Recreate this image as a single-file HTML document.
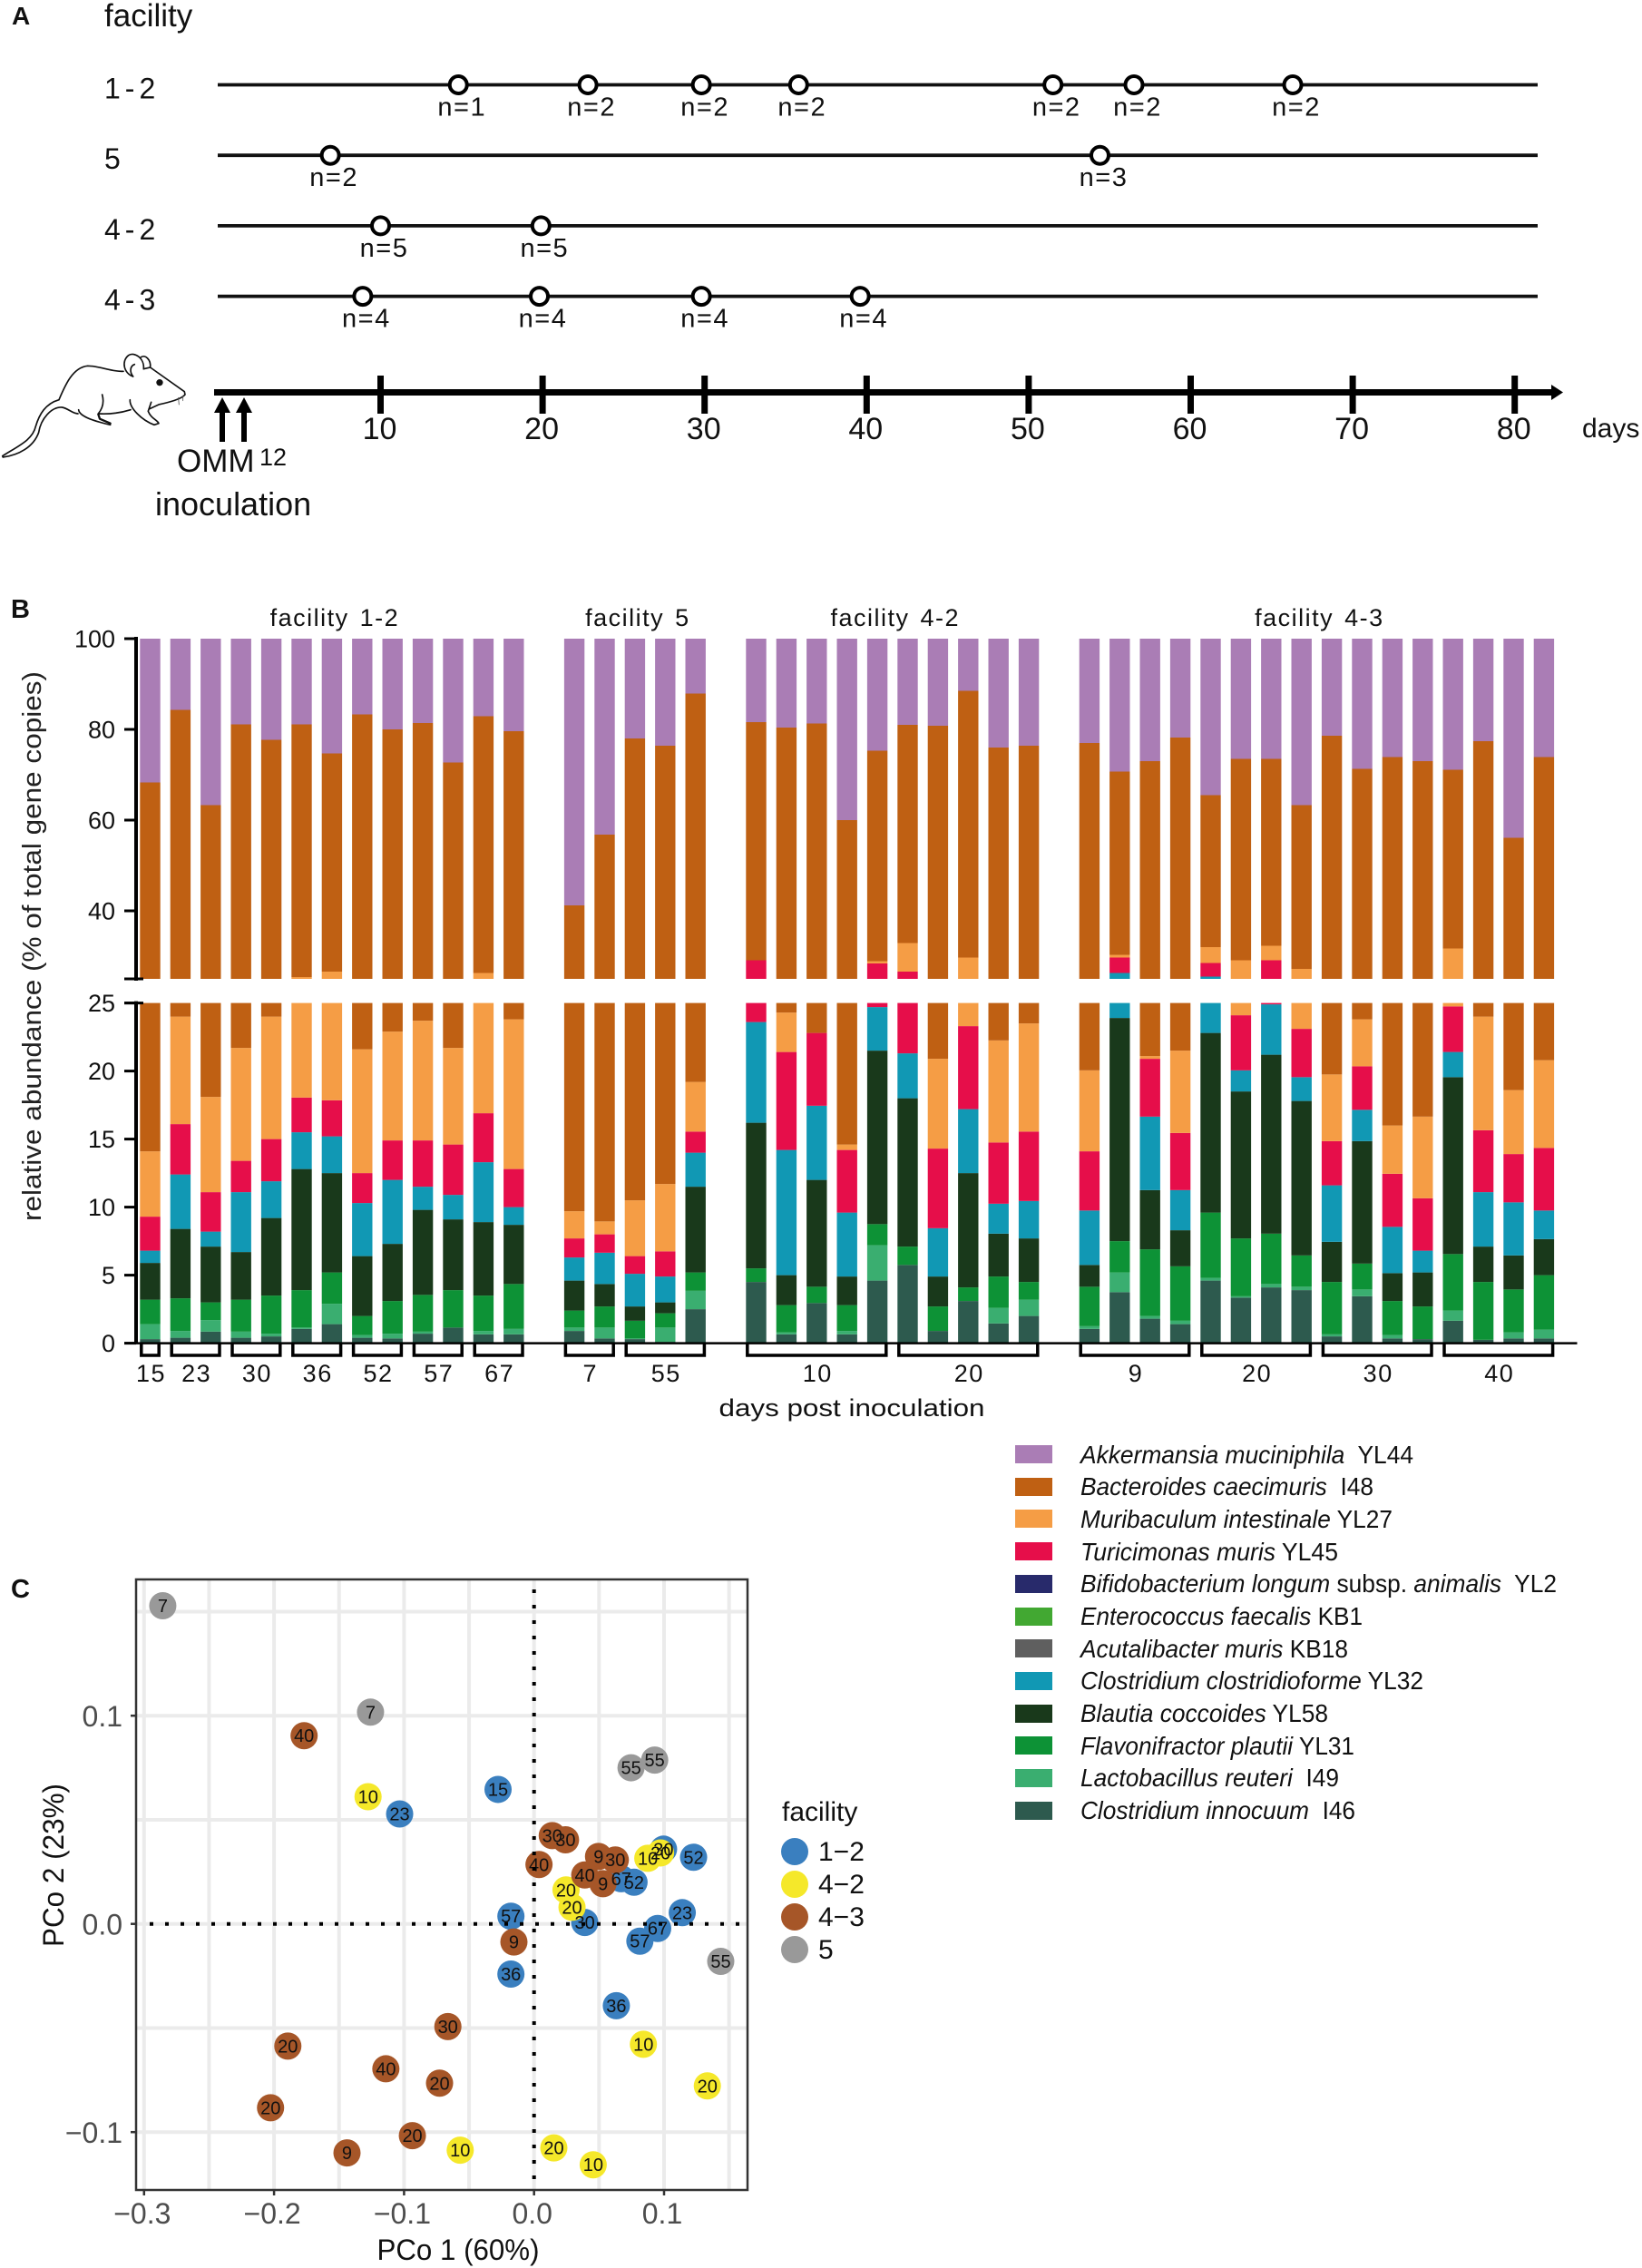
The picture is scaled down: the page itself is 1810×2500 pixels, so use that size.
<!DOCTYPE html>
<html lang="en">
<head>
<meta charset="utf-8">
<title>OMM12 colonisation across facilities</title>
<style>
html,body{margin:0;padding:0;background:#fff;}
svg{display:block;font-family:"Liberation Sans",sans-serif;fill:#111;}
.sp{font-size:28px;white-space:pre;fill:#111;}
.it{font-style:italic;}
</style>
</head>
<body>
<svg id="figure" xmlns="http://www.w3.org/2000/svg" width="1810" height="2500" viewBox="0 0 1810 2500">
  <rect x="0" y="0" width="1810" height="2500" fill="#fff"/>

  <text x="13" y="27" font-size="28" font-weight="bold">A</text>
  <text x="115" y="29" font-size="35" fill="#111">facility</text>

  <g id="panelA"></g>

  <g transform="translate(0,370) scale(0.3333)" fill="none" stroke="#111" stroke-width="5" stroke-linecap="round" stroke-linejoin="round">
    <path d="M195 212 C215 165 240 105 290 100 C330 100 370 120 408 118"/>
    <path d="M440 135 C410 125 400 85 425 65 C445 52 478 75 475 110"/>
    <path d="M465 72 C480 60 500 80 497 105"/>
    <path d="M440 135 C428 120 430 100 445 95"/>
    <path d="M475 110 L497 105 L610 185 L612 195 C600 210 560 220 525 228 L495 242"/>
    <circle cx="528" cy="155" r="11" fill="#111" stroke="none"/>
    <path d="M590 205 L592 228 M605 198 L605 215" stroke-width="2.5" stroke="#555"/>
    <path d="M195 212 C150 225 130 260 118 300 C108 345 60 365 8 398 L10 402 C60 395 110 370 128 320 C135 275 170 235 205 237 C225 240 240 258 258 258"/>
    <path d="M260 245 C262 265 300 280 365 295"/>
    <path d="M338 195 C345 220 340 240 325 258 C360 260 400 255 432 245"/>
    <path d="M325 260 L330 275 L365 290" stroke-width="7"/>
    <path d="M430 212 C428 240 470 280 510 295 L525 290 C520 278 500 275 490 250 L500 220"/>
  </g>

  <g fill="#000">
    <rect x="242" y="453" width="6" height="34"/>
    <path d="M245 438 L254 455 L236 455 Z"/>
    <rect x="266" y="453" width="6" height="34"/>
    <path d="M269 438 L278 455 L260 455 Z"/>
  </g>
  <text x="195" y="520" font-size="35" fill="#111">OMM</text>
  <text x="286" y="513" font-size="27" fill="#111">12</text>
  <text x="171" y="568" font-size="36" fill="#111">inoculation</text>
  <text x="1744" y="482" font-size="30" fill="#111">days</text>

  <text x="12" y="681" font-size="29" font-weight="bold">B</text>
  <text transform="translate(45,1043) rotate(-90)" text-anchor="middle" font-size="29" fill="#222" textLength="606" lengthAdjust="spacingAndGlyphs">relative abundance (% of total gene copies)</text>
  <text x="939" y="1561" text-anchor="middle" font-size="27" fill="#111" textLength="293" lengthAdjust="spacingAndGlyphs">days post inoculation</text>

  <g id="panelB"></g>

  <g>
    <rect x="1119" y="1593" width="41" height="20" fill="#AA7DB5"/>
    <text class="sp" x="1191" y="1613" textLength="367" lengthAdjust="spacingAndGlyphs"><tspan class="it">Akkermansia muciniphila</tspan>  YL44</text>
    <rect x="1119" y="1629" width="41" height="20" fill="#BF6013"/>
    <text class="sp" x="1191" y="1648" textLength="323" lengthAdjust="spacingAndGlyphs"><tspan class="it">Bacteroides caecimuris</tspan>  I48</text>
    <rect x="1119" y="1664" width="41" height="20" fill="#F59D45"/>
    <text class="sp" x="1191" y="1684" textLength="344" lengthAdjust="spacingAndGlyphs"><tspan class="it">Muribaculum intestinale</tspan> YL27</text>
    <rect x="1119" y="1700" width="41" height="20" fill="#E60E4A"/>
    <text class="sp" x="1191" y="1720" textLength="284" lengthAdjust="spacingAndGlyphs"><tspan class="it">Turicimonas muris</tspan> YL45</text>
    <rect x="1119" y="1736" width="41" height="20" fill="#282A6B"/>
    <text class="sp" x="1191" y="1755" textLength="525" lengthAdjust="spacingAndGlyphs"><tspan class="it">Bifidobacterium longum</tspan> subsp. <tspan class="it">animalis</tspan>  YL2</text>
    <rect x="1119" y="1772" width="41" height="20" fill="#42A832"/>
    <text class="sp" x="1191" y="1791" textLength="311" lengthAdjust="spacingAndGlyphs"><tspan class="it">Enterococcus faecalis</tspan> KB1</text>
    <rect x="1119" y="1807" width="41" height="20" fill="#5F5F5F"/>
    <text class="sp" x="1191" y="1827" textLength="295" lengthAdjust="spacingAndGlyphs"><tspan class="it">Acutalibacter muris</tspan> KB18</text>
    <rect x="1119" y="1843" width="41" height="20" fill="#1198B4"/>
    <text class="sp" x="1191" y="1862" textLength="378" lengthAdjust="spacingAndGlyphs"><tspan class="it">Clostridium clostridioforme</tspan> YL32</text>
    <rect x="1119" y="1879" width="41" height="20" fill="#19391B"/>
    <text class="sp" x="1191" y="1898" textLength="273" lengthAdjust="spacingAndGlyphs"><tspan class="it">Blautia coccoides</tspan> YL58</text>
    <rect x="1119" y="1914" width="41" height="20" fill="#0D9236"/>
    <text class="sp" x="1191" y="1934" textLength="302" lengthAdjust="spacingAndGlyphs"><tspan class="it">Flavonifractor plautii</tspan> YL31</text>
    <rect x="1119" y="1950" width="41" height="20" fill="#3AAE70"/>
    <text class="sp" x="1191" y="1969" textLength="285" lengthAdjust="spacingAndGlyphs"><tspan class="it">Lactobacillus reuteri</tspan>  I49</text>
    <rect x="1119" y="1986" width="41" height="20" fill="#2D5A4E"/>
    <text class="sp" x="1191" y="2005" textLength="303" lengthAdjust="spacingAndGlyphs"><tspan class="it">Clostridium innocuum</tspan>  I46</text>
  </g>

  <text x="12" y="1761" font-size="29" font-weight="bold">C</text>
  <text x="505" y="2491" text-anchor="middle" font-size="32" fill="#111" textLength="179" lengthAdjust="spacingAndGlyphs">PCo 1 (60%)</text>
  <text transform="translate(70,2056) rotate(-90)" text-anchor="middle" font-size="32" fill="#111" textLength="180" lengthAdjust="spacingAndGlyphs">PCo 2 (23%)</text>

  <g id="panelC"></g>

  <g>
    <text x="862" y="2007" font-size="30" fill="#111">facility</text>
    <circle cx="876" cy="2041" r="15" fill="#3A7FBF"/>
    <text x="902" y="2051" font-size="30" fill="#111">1−2</text>
    <circle cx="876" cy="2077" r="15" fill="#F5E82A"/>
    <text x="902" y="2087" font-size="30" fill="#111">4−2</text>
    <circle cx="876" cy="2113" r="15" fill="#A65628"/>
    <text x="902" y="2123" font-size="30" fill="#111">4−3</text>
    <circle cx="876" cy="2149" r="15" fill="#999999"/>
    <text x="902" y="2159" font-size="30" fill="#111">5</text>
  </g>
</svg>

<script>
/* ---------- Panel A data ---------- */
const timelineFacilities = ['1-2', '5', '4-2', '4-3'];
const sampleDays12 = [14.8, 22.8, 29.8, 35.8, 51.5, 56.5, 66.3];
const sampleN12 = ['n=1', 'n=2', 'n=2', 'n=2', 'n=2', 'n=2', 'n=2'];
const sampleDays5 = [6.9, 54.4];
const sampleN5 = ['n=2', 'n=3'];
const sampleDays42 = [10, 19.9];
const sampleN42 = ['n=5', 'n=5'];
const sampleDays43 = [8.9, 19.8, 29.8, 39.6];
const sampleN43 = ['n=4', 'n=4', 'n=4', 'n=4'];
const timelineTicks = [10, 20, 30, 40, 50, 60, 70, 80];

/* ---------- Panel B data: cumulative stack tops (% of total) per bar ---------- */
const facilityTitles = ['facility 1-2', 'facility 5', 'facility 4-2', 'facility 4-3'];
const facilityBarCounts = [13, 5, 10, 16];
const dayGroupLabels = ['15','23','30','36','52','57','67','7','55','10','20','9','20','30','40'];
const dayGroupBarCounts = [1,2,2,2,2,2,2,2,3,5,5,4,4,4,4];
const upperTicks = [100, 80, 60, 40];
const lowerTicks = [25, 20, 15, 10, 5, 0];
const totalAbundance = 100;

const cumInnocuum = [.3,.4,.85,.4,.5,1.05,1.4,.4,.35,.7,1.15,.65,.65,
  .9,.35,.3,.1,2.5,
  4.5,.65,2.95,.65,4.6,5.75,.9,3.1,1.45,2.0,
  1.05,3.75,1.8,1.4,4.6,3.35,4.1,3.9,.5,3.45,.35,.3,1.65,.25,.35,.35];
const cumReuteri = [1.4,.9,1.7,.85,.7,1.15,2.9,.6,.7,.85,1.15,.9,1.05,
  1.15,1.15,.35,1.15,3.85,
  4.5,.8,2.95,.9,7.2,5.75,.9,3.1,2.6,3.2,
  1.25,5.2,2.0,1.65,4.8,3.45,4.35,4.15,.65,3.95,.6,.3,2.4,.25,.8,1.0];
const cumPlautii = [3.2,3.3,3.0,3.2,3.5,3.9,5.2,2.0,3.1,3.55,3.9,3.5,4.35,
  2.4,2.7,1.65,2.2,5.2,
  5.5,2.8,4.15,2.8,8.75,7.1,2.7,4.1,4.9,4.5,
  4.15,7.5,6.9,5.65,9.6,7.7,8.05,6.45,4.5,5.85,3.1,2.7,6.55,4.5,3.95,5.0];
const cumCoccoides = [5.9,8.4,7.1,6.7,9.2,12.8,12.5,6.4,7.3,9.8,9.1,8.9,8.7,
  4.6,4.35,2.7,3.0,11.5,
  16.2,5.0,12.0,4.9,21.5,18.0,4.9,12.5,8.05,7.7,
  5.75,23.9,11.25,8.3,22.8,18.5,21.2,17.8,7.45,14.85,5.15,5.2,19.55,7.1,6.45,7.65];
const cumClostridioforme = [6.8,12.4,8.2,11.1,11.9,15.5,15.2,10.3,12.0,11.5,10.9,13.3,10.0,
  6.3,6.65,5.1,4.9,14.0,
  23.6,14.2,17.45,9.6,24.7,21.3,8.45,17.2,10.25,10.45,
  9.75,26.3,16.65,11.25,25.5,20.05,24.9,19.55,11.6,17.15,8.55,6.8,21.4,11.1,10.35,9.75];
const cumTuricimonas = [9.3,16.1,11.1,13.4,15.0,18.05,17.85,12.5,14.9,14.9,14.6,16.9,12.8,
  7.7,8.0,6.4,6.75,15.55,
  29.1,21.4,22.8,14.2,28.4,26.6,14.3,23.3,14.75,15.55,
  14.1,29.7,20.9,15.45,28.5,24.1,29.1,23.1,14.85,20.35,12.45,10.65,24.75,15.65,13.9,14.35];
const cumMuribaculum = [14.1,24.0,18.1,21.7,24.0,25.4,26.6,21.6,22.9,23.7,21.7,26.3,23.8,
  9.7,8.95,10.5,11.7,19.2,
  29.1,24.3,22.8,14.6,28.9,32.9,20.9,29.7,22.25,23.5,
  20.05,30.3,21.1,21.5,32.0,29.1,32.3,27.2,19.75,23.8,16.0,16.65,31.7,24.0,18.6,20.8];
const cumCaecimuris = [68.3,84.3,63.3,81.1,77.7,81.1,74.7,83.3,80.0,81.4,72.7,82.9,79.6,
  41.2,56.8,78.0,76.4,87.9,
  81.6,80.4,81.3,60.0,75.3,81.0,80.8,88.5,76.0,76.4,
  77.0,70.7,73.0,78.2,65.5,73.5,73.5,63.3,78.6,71.3,73.9,73.0,71.1,77.4,56.1,73.9];

/* ---------- Panel C data ---------- */
const fac12Pco1 = [-.1034,-.0277,-.0178,-.0178,.039,.067,.0769,.0996,.1227,.114,.0951,.0814,.0633];
const fac12Pco2 = [.0528,.0646,.0037,-.0241,.0007,.0217,.02,.0359,.032,.0054,-.0022,-.0083,-.0393];
const fac12Days = ['23','15','57','36','30','67','52','30','52','23','67','57','36'];
const fac42Pco1 = [-.1277,.0246,.0292,.0875,.0973,.0841,.1333,-.0568,.0152,.0455];
const fac42Pco2 = [.0611,.0163,.008,.0315,.0341,-.0578,-.0778,-.1087,-.1076,-.1157];
const fac42Days = ['10','20','20','10','20','10','20','10','20','10'];
const fac43Pco1 = [-.1769,.014,.0242,.0038,.0496,.0625,.039,.053,-.0155,-.0663,-.1894,-.114,-.0727,-.2027,-.0936,-.1439];
const fac43Pco2 = [.0904,.0424,.0404,.0285,.0324,.0307,.0235,.0193,-.0087,-.0493,-.0587,-.0696,-.0765,-.0883,-.1017,-.11];
const fac43Days = ['40','30','30','40','9','30','40','9','9','30','20','40','20','20','20','9'];
const fac5Pco1 = [-.2856,-.1258,.0746,.0928,.1436];
const fac5Pco2 = [.1528,.1017,.075,.0787,-.018];
const fac5Days = ['7','7','55','55','55'];
const pco1Ticks = [-.3, -.2, -.1, 0, .1];
const pco2Ticks = [-.1, 0, .1];
const pco1Grid = [-.3, -.25, -.2, -.15, -.1, -.05, 0, .05, .1, .15];
const pco2Grid = [-.1, -.05, 0, .05, .1, .15];

/* ---------- helpers ---------- */
const NS = 'http://www.w3.org/2000/svg';
function mk(parent, tag, attrs) {
  const el = document.createElementNS(NS, tag);
  for (const k in attrs) el.setAttribute(k, attrs[k]);
  parent.appendChild(el);
  return el;
}
function mkText(parent, str, attrs) {
  const el = mk(parent, 'text', attrs);
  el.textContent = str;
  return el;
}

/* ---------- Panel A ---------- */
const panelA = document.getElementById('panelA');
const xDay = d => 419.5 + 17.86 * (d - 10);
const rowY = i => 93.5 + 77.7 * i;
const rowDays = [sampleDays12, sampleDays5, sampleDays42, sampleDays43];
const rowN = [sampleN12, sampleN5, sampleN42, sampleN43];

timelineFacilities.forEach((fac, i) => {
  const y = rowY(i);
  const line = mk(panelA, 'line', {x1: 240, x2: 1695, y1: y, y2: y, stroke: '#111', 'stroke-width': 3.8});
  
  
  const lab = mkText(panelA, fac, {x: 115, y: y + 15, 'font-size': 32, 'letter-spacing': 5, fill: '#111'});
  
  
  rowDays[i].forEach((d, j) => {
    const c = mk(panelA, 'circle', {cx: xDay(d), cy: y, r: 9.5, fill: '#fff', stroke: '#000', 'stroke-width': 4});
    
    
    const n = mkText(panelA, rowN[i][j], {x: xDay(d) + 4, y: y + 34, 'text-anchor': 'middle', 'font-size': 29, 'letter-spacing': 1.5, fill: '#111'});
    
    
  });
});

const dayAxis = mk(panelA, 'rect', {x: 236, y: 429, width: 1476, height: 7, fill: '#000'});


const dayArrow = mk(panelA, 'path', {d: 'M1723 432.5 L1710 424 L1710 441 Z', fill: '#000'});


timelineTicks.forEach(t => {
  const tk = mk(panelA, 'rect', {x: xDay(t) - 3.5, y: 414, width: 7, height: 42, fill: '#000'});
  
  
  const tl = mkText(panelA, String(t), {x: xDay(t) - 1, y: 484, 'text-anchor': 'middle', 'font-size': 34, fill: '#111'});
  
  
});

/* ---------- Panel B ---------- */
const panelB = document.getElementById('panelB');
const BAR_W = 22.4;
const xSlot = s => 154.3 + 33.4 * s;
const yUpper = v => 704 + (100 - v) * 5;
const yLower = v => 1480.6 - v * 15;

const stackNames = ['innocuum','reuteri','plautii','coccoides','clostridioforme','turicimonas','muribaculum','caecimuris','akkermansia'];
const stackColors = ['#2D5A4E','#3AAE70','#0D9236','#19391B','#1198B4','#E60E4A','#F59D45','#BF6013','#AA7DB5'];
const stackTops = [cumInnocuum, cumReuteri, cumPlautii, cumCoccoides, cumClostridioforme, cumTuricimonas, cumMuribaculum, cumCaecimuris];

const barSlots = [];
let slotCursor = 0;
const facilityFirstBar = [];
facilityBarCounts.forEach(count => {
  facilityFirstBar.push(barSlots.length);
  for (let k = 0; k < count; k++) barSlots.push(slotCursor + k);
  slotCursor += count + 1;
});

barSlots.forEach((slot, b) => {
  let lo = 0;
  stackNames.forEach((sp, s) => {
    const hi = s < stackTops.length ? stackTops[s][b] : totalAbundance;
    const loLow = Math.min(lo, 25), hiLow = Math.min(hi, 25);
    if (hiLow > loLow) {
      const seg = mk(panelB, 'rect', {x: xSlot(slot), y: yLower(hiLow), width: BAR_W, height: yLower(loLow) - yLower(hiLow), fill: stackColors[s]});
      
      
    }
    const loUp = Math.max(lo, 25), hiUp = Math.max(hi, 25);
    if (hiUp > loUp) {
      const segUp = mk(panelB, 'rect', {x: xSlot(slot), y: yUpper(hiUp), width: BAR_W, height: yUpper(loUp) - yUpper(hiUp), fill: stackColors[s]});
      
      
    }
    lo = Math.max(lo, hi);
  });
});

/* y axes */
const axisUp = mk(panelB, 'line', {x1: 150, x2: 150, y1: yUpper(100) - 2, y2: yUpper(25) + 2, stroke: '#000', 'stroke-width': 4});


const axisLow = mk(panelB, 'line', {x1: 150, x2: 150, y1: yLower(25) - 2, y2: yLower(0), stroke: '#000', 'stroke-width': 4});


const breakTop = mk(panelB, 'line', {x1: 137, x2: 158, y1: yUpper(25), y2: yUpper(25), stroke: '#000', 'stroke-width': 3});


const breakLow = mk(panelB, 'line', {x1: 137, x2: 158, y1: yLower(25), y2: yLower(25), stroke: '#000', 'stroke-width': 3});



upperTicks.forEach(t => {
  const tk = mk(panelB, 'line', {x1: 137, x2: 150, y1: yUpper(t), y2: yUpper(t), stroke: '#000', 'stroke-width': 3});
  
  
  const lb = mkText(panelB, String(t), {x: 127, y: yUpper(t) + 9.5, 'text-anchor': 'end', 'font-size': 27, fill: '#111'});
  
  
});
lowerTicks.forEach(t => {
  const tk = mk(panelB, 'line', {x1: 137, x2: 150, y1: yLower(t), y2: yLower(t), stroke: '#000', 'stroke-width': 3});
  
  
  const lb = mkText(panelB, String(t), {x: 127, y: yLower(t) + 9.5, 'text-anchor': 'end', 'font-size': 27, fill: '#111'});
  
  
});

/* baseline */
const baseLine = mk(panelB, 'line', {x1: 137, x2: 1738.5, y1: yLower(0), y2: yLower(0), stroke: '#000', 'stroke-width': 2.5});



/* day brackets */
let barCursor = 0;
dayGroupLabels.forEach((label, g) => {
  const first = barSlots[barCursor];
  const last = barSlots[barCursor + dayGroupBarCounts[g] - 1];
  barCursor += dayGroupBarCounts[g];
  const x0 = xSlot(first) + 1.5;
  const x1 = xSlot(last) + BAR_W - 1.5;
  const br = mk(panelB, 'path', {d: 'M' + x0 + ' ' + yLower(0) + ' V1494 H' + x1 + ' V' + yLower(0), fill: 'none', stroke: '#000', 'stroke-width': 3.5});
  
  
  const tx = mkText(panelB, label, {x: (x0 + x1) / 2 + 1, y: 1523, 'text-anchor': 'middle', 'font-size': 27, 'letter-spacing': 1.5, fill: '#111'});
  
  
});

/* facility titles */
facilityTitles.forEach((title, f) => {
  const first = barSlots[facilityFirstBar[f]];
  const last = barSlots[facilityFirstBar[f] + facilityBarCounts[f] - 1];
  const ft = mkText(panelB, title, {x: (xSlot(first) + xSlot(last) + BAR_W) / 2 + 3, y: 690, 'text-anchor': 'middle', 'font-size': 27, 'letter-spacing': 1.5, 'word-spacing': 3, fill: '#111'});
  
  
});

/* ---------- Panel C ---------- */
const panelC = document.getElementById('panelC');
const xPco = v => 588.7 + v * 1433;
const yPco = v => 2120.7 - v * 2295;
const PL = 150, PR = 824, PT = 1741, PB = 2414;

pco1Grid.forEach(v => {
  const g = mk(panelC, 'line', {x1: xPco(v), x2: xPco(v), y1: PT, y2: PB, stroke: '#ebebeb', 'stroke-width': 4});
  
  
});
pco2Grid.forEach(v => {
  const g = mk(panelC, 'line', {x1: PL, x2: PR, y1: yPco(v), y2: yPco(v), stroke: '#ebebeb', 'stroke-width': 4});
  
  
});

const scatterPco1 = [fac12Pco1, fac42Pco1, fac43Pco1, fac5Pco1];
const scatterPco2 = [fac12Pco2, fac42Pco2, fac43Pco2, fac5Pco2];
const scatterDays = [fac12Days, fac42Days, fac43Days, fac5Days];
const scatterColors = ['#3A7FBF', '#F5E82A', '#A65628', '#999999'];
scatterPco1.forEach((xs, f) => {
  xs.forEach((v, i) => {
    const dot = mk(panelC, 'circle', {cx: xPco(v), cy: yPco(scatterPco2[f][i]), r: 15, fill: scatterColors[f]});
    
    
  });
});
scatterPco1.forEach((xs, f) => {
  xs.forEach((v, i) => {
    const lb = mkText(panelC, scatterDays[f][i], {x: xPco(v), y: yPco(scatterPco2[f][i]) + 7, 'text-anchor': 'middle', 'font-size': 20, fill: '#111'});
    
    
  });
});

const zeroH = mk(panelC, 'line', {x1: 165, x2: 816, y1: yPco(0), y2: yPco(0), stroke: '#000', 'stroke-width': 4, 'stroke-dasharray': '4 13'});


const zeroV = mk(panelC, 'line', {x1: xPco(0), x2: xPco(0), y1: 1752, y2: 2402, stroke: '#000', 'stroke-width': 4, 'stroke-dasharray': '4 13'});



const frame = mk(panelC, 'rect', {x: PL, y: PT, width: PR - PL, height: PB - PT, fill: 'none', stroke: '#333', 'stroke-width': 2.5});



const fmt = v => v.toFixed(1).replace('-', '\u2212');
pco1Ticks.forEach(v => {
  const t = mk(panelC, 'line', {x1: xPco(v), x2: xPco(v), y1: PB, y2: PB + 6, stroke: '#333', 'stroke-width': 2.5});
  
  
  const l = mkText(panelC, fmt(v), {x: xPco(v) - 2, y: 2451, 'text-anchor': 'middle', 'font-size': 32, fill: '#4d4d4d'});
  
  
});
pco2Ticks.forEach(v => {
  const t = mk(panelC, 'line', {x1: PL - 6, x2: PL, y1: yPco(v), y2: yPco(v), stroke: '#333', 'stroke-width': 2.5});
  
  
  const l = mkText(panelC, fmt(v), {x: 135, y: yPco(v) + 12, 'text-anchor': 'end', 'font-size': 32, fill: '#4d4d4d'});
  
  
});
</script>
</body>
</html>
